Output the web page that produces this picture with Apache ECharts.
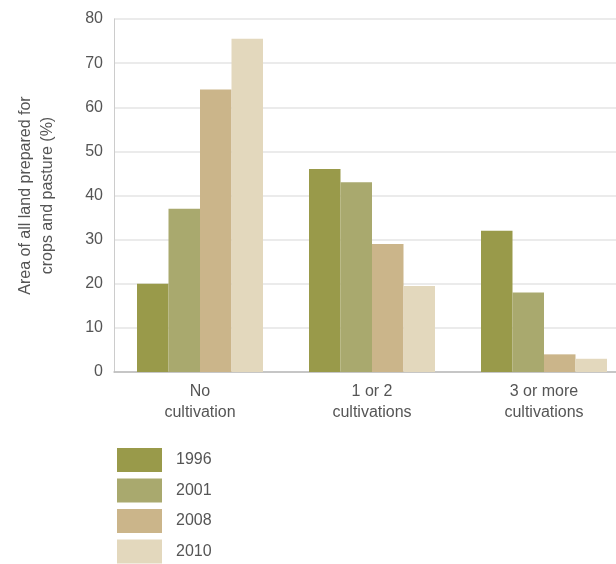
<!DOCTYPE html>
<html><head><meta charset="utf-8">
<script src="https://cdn.jsdelivr.net/npm/echarts@6/dist/echarts.min.js"></script>
<style>html,body{margin:0;padding:0;background:#fff}#c{width:616px;height:564px}</style>
</head><body><div id="c"></div>
<script>
const categories = ['No\ncultivation', '1 or 2\ncultivations', '3 or more\ncultivations'];
const seriesNames = ['1996', '2001', '2008', '2010'];
const v1996 = [20, 46, 32];
const v2001 = [37, 43, 18];
const v2008 = [64, 29, 4];
const v2010 = [75.5, 19.5, 3];
const yTicks = [0, 80, 10];
const colors = ['#999a4a', '#a9a96e', '#cbb58a', '#e3d8bd'];
const values = [v1996, v2001, v2008, v2010];

const chart = echarts.init(document.getElementById('c'));
chart.setOption({
  animation: false,
  textStyle: {fontFamily: 'Liberation Sans, Arial, sans-serif'},
  legend: {
    orient: 'vertical', left: 117, top: 448, height: 116, padding: 0,
    itemWidth: 45, itemHeight: 24, itemGap: 6.5,
    icon: 'rect',
    textStyle: {fontSize: 16, color: '#555', padding: [0, 0, 0, 9]},
    data: seriesNames
  },
  grid: {left: 114, right: -14, top: 19, bottom: 192, outerBoundsMode: 'none', containLabel: false},
  xAxis: {
    type: 'category', data: categories,
    axisLine: {lineStyle: {color: '#bbb', width: 1.5}},
    axisTick: {show: false},
    axisLabel: {fontSize: 16, color: '#555', lineHeight: 21, margin: 9}
  },
  yAxis: {
    type: 'value', min: yTicks[0], max: yTicks[1], interval: yTicks[2],
    name: 'Area of all land prepared for\ncrops and pasture (%)',
    nameLocation: 'middle', nameGap: 55, nameRotate: 90,
    nameTextStyle: {fontSize: 16, color: '#555', lineHeight: 22},
    axisLine: {show: true, lineStyle: {color: '#ccc', width: 1}},
    axisTick: {show: false},
    axisLabel: {fontSize: 16, color: '#555', margin: 11},
    splitLine: {lineStyle: {color: '#ebebeb', width: 2}}
  },
  series: values.map((d, i) => ({
    name: seriesNames[i], type: 'bar', data: d,
    barWidth: 31.5, barGap: '0%',
    itemStyle: {color: colors[i]}
  }))
});
</script></body></html>
